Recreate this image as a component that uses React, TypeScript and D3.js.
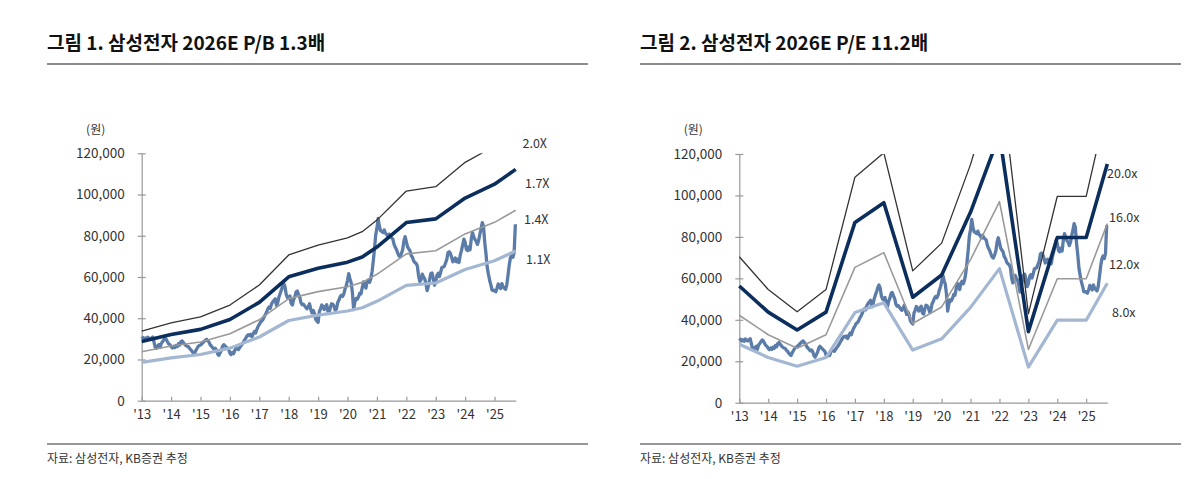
import React, { useEffect, useRef } from 'react';
import * as d3 from 'd3';

// ---- data (won) ----
const years = [2013, 2014, 2015, 2016, 2017, 2018, 2019, 2020, 2021, 2022, 2023, 2024, 2025];

// P/B bands: node dates (fractional year) and values
const pbDates = [2013, 2014, 2015, 2016, 2017, 2018, 2019, 2020, 2020.5, 2021, 2022, 2023, 2024, 2025, 2025.72];
const pb20 = [33800, 37800, 40700, 46400, 56100, 70700, 75500, 79000, 82000, 87600, 101700, 103800, 115600, 123500, 132000];
const pb17 = [28700, 32100, 34600, 39400, 47700, 60100, 64200, 67200, 69700, 74500, 86400, 88200, 98300, 105000, 112200];
const pb14 = [23700, 26500, 28500, 32500, 39300, 49500, 52900, 55300, 57400, 61300, 71200, 72700, 80900, 86500, 92400];
const pb11 = [18600, 20800, 22400, 25500, 30900, 38900, 41500, 43500, 45100, 48200, 55900, 57100, 63600, 67900, 72600];
const pbLabels = ['2.0X', '1.7X', '1.4X', '1.1X'];

// P/E bands
const peDates = [2013, 2014, 2015, 2016, 2017, 2018, 2019, 2020, 2021, 2022, 2023, 2024, 2025, 2025.73];
const pe20 = [70400, 54600, 43900, 54600, 108800, 120600, 63600, 77000, 115000, 161700, 42900, 99600, 99600, 144000];
const pe16 = [56300, 43700, 35100, 43700, 87000, 96500, 50900, 61600, 92000, 129400, 34300, 79700, 79700, 115200];
const pe12 = [42200, 32800, 26300, 32800, 65300, 72400, 38200, 46200, 69000, 97000, 25700, 59800, 59800, 86400];
const pe8 = [28200, 21800, 17600, 21800, 43500, 48200, 25400, 30800, 46000, 64700, 17200, 39800, 39800, 57600];
const peLabels = ['20.0x', '16.0x', '12.0x', '8.0x'];

// share price, two readings per month
const price2013 = [30000, 30600, 29800, 30400, 29600, 30800, 30200, 29800, 30400, 30900, 28500, 26000, 25400, 26600, 27200, 25800, 27800, 28600, 29500, 30300, 29800, 28600, 27600, 27200];
const price2014 = [26200, 25600, 26400, 25800, 26800, 26200, 27600, 27000, 28600, 29000, 28200, 27400, 26800, 26400, 26200, 25400, 24800, 24000, 23200, 22800, 24200, 25200, 26200, 26800];
const price2015 = [27000, 27600, 28200, 28800, 29400, 29800, 29000, 28400, 27000, 26400, 25600, 25000, 25400, 24600, 22600, 22000, 23200, 24400, 26400, 27200, 26600, 26000, 25400, 24800];
const price2016 = [23000, 22400, 23400, 22800, 24400, 25400, 25200, 24800, 25800, 26600, 27400, 28400, 29400, 30400, 31400, 32000, 31600, 32200, 31000, 32400, 33600, 32800, 34600, 36000];
const price2017 = [37000, 38200, 38600, 39400, 40800, 41800, 43000, 44600, 45400, 44800, 47000, 48000, 48600, 49400, 46200, 47400, 50200, 52000, 53600, 55600, 56800, 55200, 51400, 50000];
const price2018 = [49600, 50800, 47200, 46400, 49000, 50400, 52800, 53200, 51600, 50200, 47600, 46600, 46800, 46000, 45200, 44600, 45600, 47000, 44400, 42600, 43800, 42400, 39600, 38600];
const price2019 = [38000, 43200, 44600, 46400, 45600, 44200, 45600, 46600, 43400, 42800, 45200, 47000, 46800, 45800, 43800, 44600, 47600, 48800, 50400, 51200, 50600, 51800, 54200, 55800];
const price2020 = [58400, 61600, 59000, 57200, 52400, 44200, 47800, 49600, 49200, 50400, 52200, 51800, 54800, 57600, 56000, 54600, 57800, 58600, 57400, 59200, 62400, 67600, 73400, 80400];
const price2021 = [83600, 88400, 84600, 82400, 82200, 81600, 82800, 81200, 80600, 79400, 80800, 79600, 79000, 78400, 75800, 74400, 73200, 71600, 70200, 69800, 71400, 73200, 77400, 79600];
const price2022 = [77200, 74600, 73600, 72800, 70400, 69600, 67800, 67000, 66600, 65400, 60600, 57800, 58600, 61400, 60000, 59200, 56600, 53400, 55600, 58800, 61600, 62000, 59200, 56000];
const price2023 = [57600, 60800, 61800, 60200, 62200, 64600, 64800, 65200, 66800, 68400, 71800, 72200, 71400, 69600, 67400, 68000, 69200, 67400, 68600, 67000, 70600, 72800, 75600, 78400];
const price2024 = [76800, 73400, 72800, 74600, 73200, 78400, 81600, 79600, 78200, 77400, 75800, 77600, 80600, 83400, 86400, 84600, 76800, 71400, 64800, 61400, 58400, 56200, 53600, 53400];
const price2025 = [53600, 52800, 54400, 56600, 55800, 54400, 56800, 55200, 54600, 54000, 56200, 60800, 65800, 69400, 70800, 69600, 71800, 85600];
const priceByYear = [price2013, price2014, price2015, price2016, price2017, price2018, price2019, price2020, price2021, price2022, price2023, price2024, price2025];

const yTicks = [0, 20000, 40000, 60000, 80000, 100000, 120000];

const COLORS = {
    top: '#333333',
    main: '#0b2e5c',
    mid: '#9a9a9a',
    low: '#a4b7d2',
    price: '#5b7ca8'
};

type Point = { t: number; v: number };

const toPoints = (dates: number[], vals: number[]): Point[] => dates.map((t, i) => ({ t, v: vals[i] }));

const pricePoints: Point[] = priceByYear.flatMap((arr, yi) =>
    arr.map((v, i) => ({ t: years[yi] + i / 24, v }))
);

interface PanelSpec {
    id: string;
    left: number;
    title: string;
    axisX: number;
    endX: number;
    y0: number;
    yTop: number;
    endT: number;
    bands: Point[][];
    labels: string[];
    labelPos: [number, number][];
}

const App: React.FC = () => {
    const svgRef = useRef<SVGSVGElement>(null);

    useEffect(() => {
        if (!svgRef.current) return;
        const svg = d3.select(svgRef.current);
        svg.selectAll('*').remove();

        const font = '"Noto Sans CJK KR", "Noto Sans", sans-serif';

        const panels: PanelSpec[] = [
            {
                id: 'pb',
                left: 47,
                title: '그림 1. 삼성전자 2026E P/B 1.3배',
                axisX: 141.7,
                endX: 515.7,
                y0: 400.7,
                yTop: 153.3,
                endT: 2025.72,
                bands: [toPoints(pbDates, pb20), toPoints(pbDates, pb17), toPoints(pbDates, pb14), toPoints(pbDates, pb11)],
                labels: pbLabels,
                labelPos: [[522.5, 144], [525, 184], [524, 220], [526, 260]]
            },
            {
                id: 'pe',
                left: 640,
                title: '그림 2. 삼성전자 2026E P/E 11.2배',
                axisX: 739.3,
                endX: 1107.3,
                y0: 402.7,
                yTop: 154,
                endT: 2025.73,
                bands: [toPoints(peDates, pe20), toPoints(peDates, pe16), toPoints(peDates, pe12), toPoints(peDates, pe8)],
                labels: peLabels,
                labelPos: [[1107, 174], [1109, 218], [1109, 265], [1112, 313]]
            }
        ];

        const bandStyle = [
            { color: COLORS.top, width: 1.3 },
            { color: COLORS.main, width: 3.6 },
            { color: COLORS.mid, width: 1.6 },
            { color: COLORS.low, width: 3.2 }
        ];

        panels.forEach(p => {
            const g = svg.append('g').attr('font-family', font);

            // title + rules
            g.append('text')
                .attr('x', p.left)
                .attr('y', 50)
                .attr('font-size', 19)
                .attr('font-weight', 'bold')
                .attr('fill', '#111')
                .text(p.title);
            g.append('line')
                .attr('x1', p.left).attr('x2', p.left + 541)
                .attr('y1', 64).attr('y2', 64)
                .attr('stroke', '#8c8c8c').attr('stroke-width', 2);
            g.append('line')
                .attr('x1', p.left).attr('x2', p.left + 541)
                .attr('y1', 444).attr('y2', 444)
                .attr('stroke', '#333').attr('stroke-width', 1.2);
            g.append('text')
                .attr('x', p.left)
                .attr('y', 459)
                .attr('dy', '0.35em')
                .attr('font-size', 12)
                .attr('fill', '#333')
                .text('자료: 삼성전자, KB증권 추정');

            const x = d3.scaleLinear().domain([2013, p.endT]).range([p.axisX, p.endX]);
            const y = d3.scaleLinear().domain([0, 120000]).range([p.y0, p.yTop]);

            // unit
            g.append('text')
                .attr('x', p.axisX - 46)
                .attr('y', p.yTop - 24)
                .attr('dy', '0.35em')
                .attr('text-anchor', 'middle')
                .attr('font-size', 12)
                .attr('fill', '#333')
                .text('(원)');

            // y axis
            const ya = g.append('g')
                .attr('transform', `translate(${p.axisX},0)`)
                .call(d3.axisLeft(y).tickValues(yTicks).tickSize(4).tickSizeOuter(0).tickPadding(13).tickFormat(d => d3.format(',')(d as number)));
            ya.selectAll('.tick line').attr('x1', -4).attr('x2', 4);
            ya.selectAll('text').attr('font-size', 13.5).attr('fill', '#333').attr('font-family', font);

            // x axis
            const xa = g.append('g')
                .attr('transform', `translate(0,${p.y0})`)
                .call(d3.axisBottom(x).tickValues(years).tickSize(-4).tickSizeOuter(0).tickPadding(9).tickFormat(d => `'${String(d).slice(2)}`));
            xa.selectAll('text').attr('font-size', 13).attr('fill', '#333').attr('font-family', font);

            g.selectAll('.domain, .tick line').attr('stroke', '#999').attr('stroke-width', 1.2);

            // clip to plot area
            svg.append('defs').append('clipPath').attr('id', `clip-${p.id}`)
                .append('rect')
                .attr('x', p.axisX - 2).attr('y', p.yTop)
                .attr('width', p.endX - p.axisX + 6).attr('height', p.y0 - p.yTop);

            const line = d3.line<Point>().x(d => x(d.t)).y(d => y(d.v));
            const plot = g.append('g').attr('clip-path', `url(#clip-${p.id})`);

            plot.append('path')
                .datum(pricePoints)
                .attr('d', line)
                .attr('fill', 'none')
                .attr('stroke', COLORS.price)
                .attr('stroke-width', 3.3)
                .attr('stroke-linejoin', 'round');

            // draw bands light-to-dark so the navy sits on top
            [3, 2, 0, 1].forEach(i => {
                plot.append('path')
                    .datum(p.bands[i])
                    .attr('d', line)
                    .attr('fill', 'none')
                    .attr('stroke', bandStyle[i].color)
                    .attr('stroke-width', bandStyle[i].width)
                    .attr('stroke-linejoin', 'round');
            });

            // band labels
            p.labels.forEach((lab, i) => {
                g.append('text')
                    .attr('x', p.labelPos[i][0])
                    .attr('y', p.labelPos[i][1])
                    .attr('dy', '0.35em')
                    .attr('font-size', 12.5)
                    .attr('fill', '#333')
                    .text(lab);
            });
        });
    }, []);

    return (
        <svg
            ref={svgRef}
            width={1199}
            height={479}
            style={{ position: 'absolute', left: 0, top: 0, background: '#fff' }}
        />
    );
};

export default App;
